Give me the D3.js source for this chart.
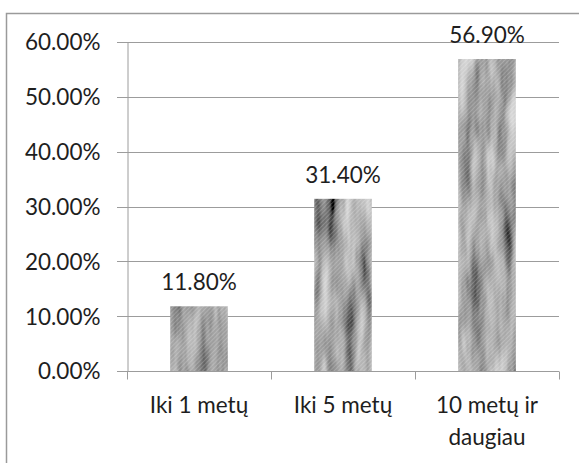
<!DOCTYPE html>
<html>
<head>
<meta charset="utf-8">
<script src="https://cdn.jsdelivr.net/npm/d3@7"></script>
<style>
  body { margin: 0; background: #fff; }
  text { font-family: Lato, "Open Sans", sans-serif; fill: #1e1e1e; }
</style>
</head>
<body>
<div id="chart"></div>
<script>
// chart values
const categories = ["Iki 1 metų", "Iki 5 metų", "10 metų ir daugiau"];
const values = [11.8, 31.4, 56.9];
const yTicks = [0, 10, 20, 30, 40, 50, 60];

const W = 579, H = 463;
const margin = {top: 42, right: 20, bottom: 92, left: 127};
const fontSize = "22.5px";

const svg = d3.select("#chart").append("svg")
    .attr("width", W)
    .attr("height", H);

// chart area border (only left/top visible in the photo)
svg.append("rect")
    .attr("x", 6.5).attr("y", 13.5)
    .attr("width", 640).attr("height", 600)
    .attr("fill", "none")
    .attr("stroke", "#9a9a9a")
    .attr("stroke-width", 1.5);

// bar texture: grey noise streaks + fine diagonal stripes
const defs = svg.append("defs");
const filt = defs.append("filter")
    .attr("id", "grain")
    .attr("x", 0).attr("y", 0)
    .attr("width", "100%").attr("height", "100%");
filt.append("feTurbulence")
    .attr("type", "fractalNoise")
    .attr("baseFrequency", "0.07 0.012")
    .attr("numOctaves", 3)
    .attr("seed", 11)
    .attr("result", "n");
filt.append("feColorMatrix")
    .attr("in", "n")
    .attr("type", "matrix")
    .attr("values", "0.33 0.33 0.33 0 0  0.33 0.33 0.33 0 0  0.33 0.33 0.33 0 0  0 0 0 0 1")
    .attr("result", "g");
const ct = filt.append("feComponentTransfer").attr("in", "g").attr("result", "c");
["feFuncR", "feFuncG", "feFuncB"].forEach(f => {
  ct.append(f).attr("type", "linear").attr("slope", 1.6).attr("intercept", -0.42);
});
filt.append("feComposite")
    .attr("in", "c")
    .attr("in2", "SourceGraphic")
    .attr("operator", "in");

const pat = defs.append("pattern")
    .attr("id", "stripes")
    .attr("width", 3).attr("height", 3)
    .attr("patternUnits", "userSpaceOnUse")
    .attr("patternTransform", "rotate(45)");
pat.append("rect").attr("width", 1).attr("height", 3).attr("fill", "rgba(255,255,255,0.2)");

const x = d3.scaleBand()
    .domain(categories)
    .range([margin.left, 559])
    .paddingInner(0.6)
    .paddingOuter(0.3);

const y = d3.scaleLinear()
    .domain([0, 60])
    .range([371, margin.top]);

// gridlines
svg.append("g")
  .selectAll("line")
  .data(yTicks)
  .join("line")
    .attr("x1", 117).attr("x2", 559)
    .attr("y1", d => Math.round(y(d)) + 0.5)
    .attr("y2", d => Math.round(y(d)) + 0.5)
    .attr("stroke", "#9c9c9c")
    .attr("stroke-width", 1);

// y axis
const yAxis = svg.append("g")
    .attr("transform", `translate(${margin.left + 0.5},0)`)
    .call(d3.axisLeft(y).tickValues(yTicks).tickSize(10)
      .tickFormat(d => d.toFixed(2) + "%"));
yAxis.select(".domain").attr("stroke", "#9c9c9c");
yAxis.selectAll(".tick line").attr("stroke", "none");
yAxis.selectAll(".tick text")
    .attr("x", -27)
    .attr("dy", "0.35em")
    .style("font-size", fontSize);

// x axis tick marks at category boundaries
const xAxis = svg.append("g")
    .attr("transform", `translate(0,${Math.round(y(0)) + 0.5})`);
xAxis.append("line")
    .attr("x1", margin.left).attr("x2", 559)
    .attr("stroke", "#9c9c9c");
const step = x.step();
xAxis.selectAll("line.tk")
  .data(d3.range(categories.length + 1))
  .join("line")
    .attr("class", "tk")
    .attr("x1", i => Math.round(margin.left + i * step) + 0.5)
    .attr("x2", i => Math.round(margin.left + i * step) + 0.5)
    .attr("y1", 0).attr("y2", 8)
    .attr("stroke", "#9c9c9c");

// bars
const bars = svg.append("g")
  .selectAll("g")
  .data(values)
  .join("g");

bars.append("rect")
    .attr("x", (d, i) => x(categories[i]))
    .attr("y", d => y(d))
    .attr("width", x.bandwidth())
    .attr("height", d => y(0) - y(d))
    .attr("fill", "#888")
    .attr("filter", "url(#grain)");
bars.append("rect")
    .attr("x", (d, i) => x(categories[i]))
    .attr("y", d => y(d))
    .attr("width", x.bandwidth())
    .attr("height", d => y(0) - y(d))
    .attr("fill", "url(#stripes)");

// value labels
bars.append("text")
    .attr("x", (d, i) => x(categories[i]) + x.bandwidth() / 2)
    .attr("y", d => y(d) - 16)
    .attr("text-anchor", "middle")
    .style("font-size", fontSize)
    .text(d => d.toFixed(2) + "%");

// category labels, wrapped like the original
const wrapped = [["Iki 1 metų"], ["Iki 5 metų"], ["10 metų ir", "daugiau"]];
svg.append("g")
  .selectAll("text")
  .data(categories)
  .join("text")
    .attr("text-anchor", "middle")
    .style("font-size", fontSize)
    .each(function(d, i) {
      const cx = x(d) + x.bandwidth() / 2;
      d3.select(this).selectAll("tspan")
        .data(wrapped[i])
        .join("tspan")
          .attr("x", cx)
          .attr("y", (t, j) => 413 + j * 32)
          .text(t => t);
    });
</script>
</body>
</html>
